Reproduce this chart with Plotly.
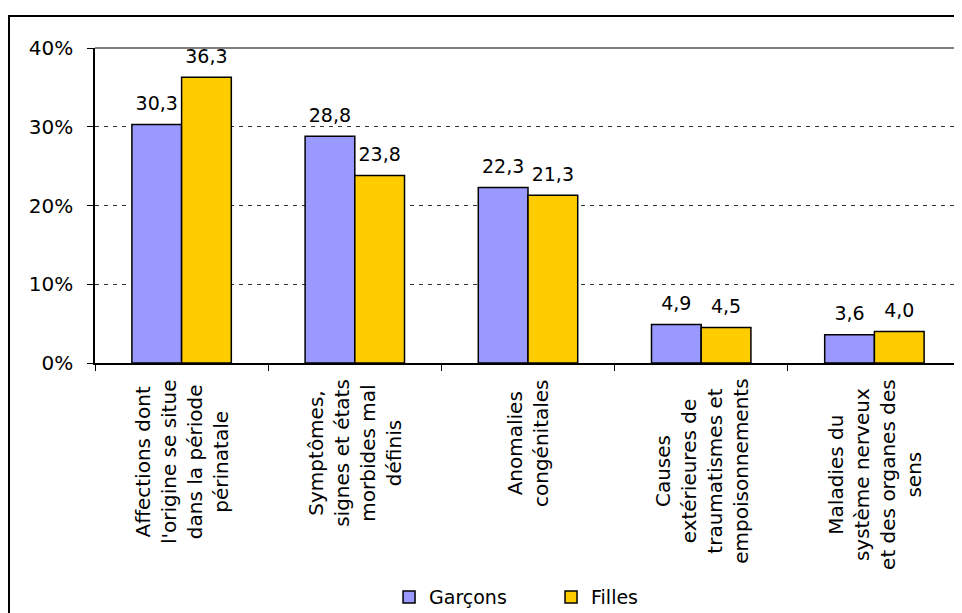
import plotly.graph_objects as go

categories = [
    "Affections dont<br>l'origine se situe<br>dans la période<br>périnatale",
    "Symptômes,<br>signes et états<br>morbides mal<br>définis",
    "Anomalies<br>congénitales",
    "Causes<br>extérieures de<br>traumatismes et<br>empoisonnements",
    "Maladies du<br>système nerveux<br>et des organes des<br>sens",
]
cat_keys = ["c1", "c2", "c3", "c4", "c5"]
garcons = [30.3, 28.8, 22.3, 4.9, 3.6]
filles = [36.3, 23.8, 21.3, 4.5, 4.0]
y_ticks = [0, 10, 20, 30, 40]
y_tick_text = ["0%", "10%", "20%", "30%", "40%"]

FONT = "DejaVu Sans"
series = [("Garçons", garcons, "#9999FF"), ("Filles", filles, "#FFCC00")]

# page body has an 8px default margin: figure sized so it fits the window exactly
W, H = 954, 605
L, T, PW, PH = 87, 40, 866, 315

fig = go.Figure()
for name, vals, col in series:
    fig.add_bar(name=name, x=cat_keys, y=vals, offsetgroup=name,
                marker=dict(color=col, line=dict(color="black", width=1.5)))
for name, vals, col in series:
    fig.add_scatter(x=cat_keys, y=vals, mode="markers+text", offsetgroup=name,
                    texttemplate="%{y:.1f}", textposition="top center",
                    marker=dict(size=14, opacity=0), showlegend=False,
                    cliponaxis=False, hoverinfo="skip",
                    textfont=dict(size=19, color="black", family=FONT))

for key, lab in zip(cat_keys, categories):
    fig.add_annotation(x=key, xref="x", y=0, yref="paper", yanchor="top",
                       yshift=-14, text=lab, textangle=-90, align="center",
                       showarrow=False, font=dict(size=20, color="black", family=FONT))

fig.update_layout(
    width=W, height=H,
    margin=dict(l=L, r=W - L - PW, t=T, b=H - T - PH, autoexpand=False),
    paper_bgcolor="white", plot_bgcolor="white",
    font=dict(family=FONT, size=19, color="black"),
    separators=", ",
    barmode="group", bargap=0.426, bargroupgap=0,
    scattermode="group", scattergap=0.426,
    showlegend=True,
    legend=dict(orientation="h", x=0.5266, xanchor="center", y=-0.743, yanchor="middle",
                font=dict(size=19, family=FONT), itemwidth=30, entrywidth=117,
                traceorder="normal"),
    xaxis=dict(showticklabels=False, ticks="outside", tickson="boundaries",
               ticklen=6, tickcolor="black", showline=True, linecolor="black",
               linewidth=1.5, showgrid=False, zeroline=False),
    yaxis=dict(range=[0, 40], tickmode="array", tickvals=y_ticks, ticktext=y_tick_text,
               ticks="outside", ticklabelstandoff=10,
               ticklen=6, tickcolor="black", showline=True, linecolor="black",
               linewidth=1.5, showgrid=True, gridcolor="#333333", griddash="4px,5px",
               gridwidth=1, zeroline=False, tickfont=dict(size=20)),
    shapes=[
        dict(type="line", xref="paper", yref="paper", x0=0, x1=1, y0=1, y1=1,
             line=dict(color="#808080", width=2), layer="above"),
        dict(type="line", xref="paper", yref="paper", x0=1, x1=1, y0=0, y1=1,
             line=dict(color="#808080", width=2), layer="above"),
        dict(type="rect", xref="paper", yref="paper",
             x0=(1 - L) / PW, x1=(975 - L) / PW,
             y0=(T + PH - 630) / PH, y1=(T + PH - 8) / PH,
             line=dict(color="black", width=2), layer="above"),
    ],
)

fig.write_html("out.html")
